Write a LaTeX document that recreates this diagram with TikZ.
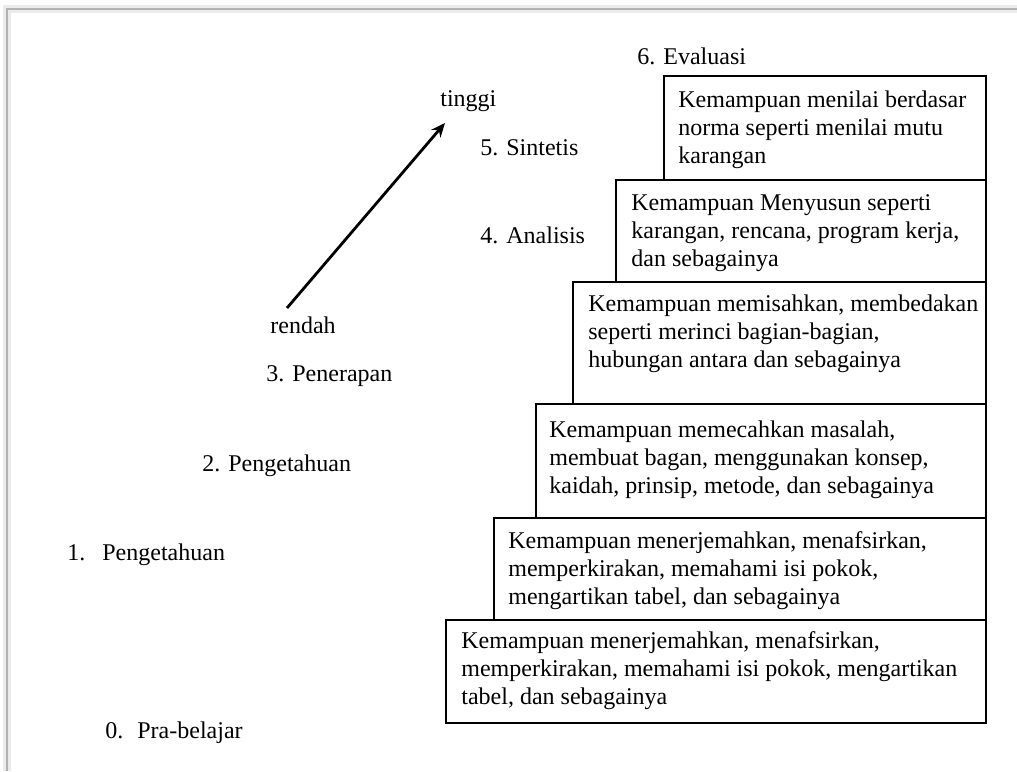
\documentclass[tikz,border=0pt]{standalone}
\usepackage{fontspec}
\setmainfont{Liberation Serif}
\usetikzlibrary{arrows.meta}

\begin{document}
\begin{tikzpicture}[x=0.5pt,y=-0.5pt,
		every node/.style={font=\fontsize{12}{14}\selectfont, inner sep=0pt},
		level/.style={anchor=base west},
		isi/.style={anchor=base west, align=left},
		kotak/.style={draw, line width=0.8pt}]
		%%%%% START %%%%%
		\useasboundingbox (0,0) rectangle (1017,771);
		
		% bingkai halaman
		\draw[black!8, line width=4pt] (7,771) -- (7,9) -- (1017,9);
		\draw[black!30, line width=0.6pt] (7,771) -- (7,9) -- (1017,9);
		
		% tangga kotak
		\draw[kotak] (664,76) rectangle (986,180);
		\draw[kotak] (616,180) rectangle (986,282);
		\draw[kotak] (573,282) rectangle (986,404);
		\draw[kotak] (536,404) rectangle (986,518);
		\draw[kotak] (494,518) rectangle (986,620);
		\draw[kotak] (446,620) rectangle (986,723);
		
		% (titik acuan = garis dasar baris terakhir)
		\node[isi] (t6) at (678,163) {Kemampuan menilai berdasar\\norma seperti menilai mutu\\karangan};
		\node[isi] (t5) at (631,266) {Kemampuan Menyusun seperti\\karangan, rencana, program kerja,\\dan sebagainya};
		\node[isi] (t4) at (588,367) {Kemampuan memisahkan, membedakan\\seperti merinci bagian-bagian,\\hubungan antara dan sebagainya};
		\node[isi] (t3) at (549,493) {Kemampuan memecahkan masalah,\\membuat bagan, menggunakan konsep,\\kaidah, prinsip, metode, dan sebagainya};
		\node[isi] (t2) at (508,604) {Kemampuan menerjemahkan, menafsirkan,\\memperkirakan, memahami isi pokok,\\mengartikan tabel, dan sebagainya};
		\node[isi] (t1) at (461,704) {Kemampuan menerjemahkan, menafsirkan,\\memperkirakan, memahami isi pokok, mengartikan\\tabel, dan sebagainya};
		
		% tingkatan
		\node[level] (l6) at (637,64) {6. Evaluasi};
		\node[level] (l5) at (480,155) {5. Sintetis};
		\node[level] (l4) at (480,243) {4. Analisis};
		\node[level] (l3) at (266,381) {3. Penerapan};
		\node[level] (l2) at (202,471) {2. Pengetahuan};
		\node[level] (l1) at (67,560) {1.\hspace{8.5pt}Pengetahuan};
		\node[level] (l0) at (105,738) {0.\hspace{7pt}Pra-belajar};
		
		% arah rendah ke tinggi
		\node[level] (tinggi) at (440,106) {tinggi};
		\node[level] (rendah) at (270,333) {rendah};
		\coordinate (bawah) at (287,308);
		\coordinate (atas) at (445,123);
		\draw[line width=1.4pt, -{Stealth[length=7pt,width=6pt]}] (bawah) -- (atas);
		
		%%%%% END %%%%%
	\end{tikzpicture}
\end{document}
